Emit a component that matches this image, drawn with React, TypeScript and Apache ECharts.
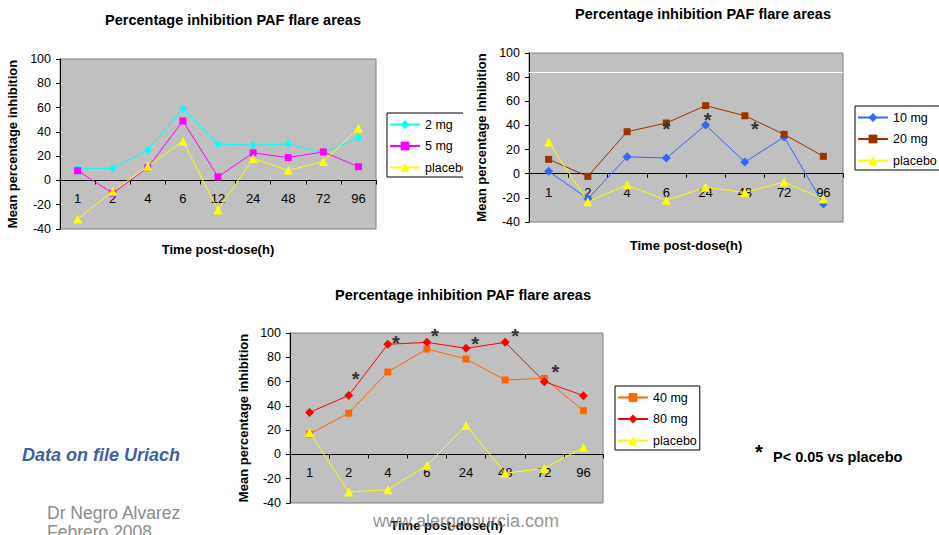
import React, { useEffect, useRef } from "react";
import * as echarts from "echarts";

const TITLE = "Percentage inhibition PAF flare areas";
const Y_NAME = "Mean percentage inhibition";
const X_NAME = "Time post-dose(h)";

const Y_MIN = -40;
const Y_MAX = 100;
const Y_STEP = 20;

// Chart 1 (top left)
const cats1 = ["1", "2", "4", "6", "12", "24", "48", "72", "96"];
const mg2 = [10, 10, 25, 59, 30, 29, 30, 23, 35];
const mg5 = [8, -10.5, 10.5, 49, 3, 22.7, 18.8, 23.5, 11.3];
const placebo1 = [-31.8, -9, 11.6, 32.3, -24.3, 18, 8.3, 15.5, 43];

// Chart 2 (top right)
const cats2 = ["1", "2", "4", "6", "24", "48", "72", "96"];
const mg10 = [2, -20.7, 14, 13, 40.3, 9.7, 30.4, -25];
const mg20 = [11.9, -2.2, 34.8, 42, 56.4, 48, 32.6, 14.4];
const placebo2 = [26.2, -23.2, -9.4, -22, -11.3, -15.5, -6.9, -21];
const starCats2 = ["6", "24", "48"];
const starVals2 = [40.7, 47, 40];
const whiteLine2 = 84;

// Chart 3 (bottom)
const cats3 = ["1", "2", "4", "6", "24", "48", "72", "96"];
const mg40 = [16.8, 34, 67.9, 86.8, 78.6, 61.3, 62.6, 36];
const mg80 = [34.6, 48.6, 90.7, 92.3, 87.4, 92.3, 59.9, 48.4];
const placebo3 = [18.1, -31, -29, -9, 23.9, -15.4, -11.5, 5.8];
const starCats3 = ["2", "4", "6", "24", "48", "72"];
const starVals3 = [64.3, 93.9, 99.8, 93.7, 99.8, 70.3];

const FONT = '"Liberation Sans", Arial, Helvetica, sans-serif';

type SeriesCfg = {
  name: string;
  data: number[];
  color: string;
  symbol: string;
  size: number;
};

type Cfg = {
  cats: string[];
  series: SeriesCfg[];
  grid: { left: number; top: number; width: number; height: number };
  title: { x: number; y: number };
  legend: { left: number; top: number; padRight: number };
  yNameGap: number;
  xNameGap: number;
  stars?: { cats: string[]; vals: number[]; shifts: number[]; dy: number[] };
  whiteLine?: number;
  graphic?: any[];
};

function buildOption(cfg: Cfg) {
  // put the category axis on the zero line (ECharts 6 keeps labels at the grid edge otherwise)
  const zeroFromBottom = ((0 - Y_MIN) / (Y_MAX - Y_MIN)) * cfg.grid.height;
  const series: any[] = cfg.series.map((s) => ({
    type: "line",
    name: s.name,
    data: s.data,
    symbol: s.symbol,
    symbolSize: s.size,
    showAllSymbol: true,
    lineStyle: { color: s.color, width: 1 },
    itemStyle: { color: s.color },
    clip: false,
  }));
  if (cfg.stars) {
    const st = cfg.stars;
    series[0].markPoint = {
      silent: true,
      symbol: "circle",
      symbolSize: 1,
      itemStyle: { color: "rgba(0,0,0,0)" },
      label: {
        show: true,
        position: "inside",
        formatter: "*",
        fontSize: 20,
        fontWeight: "bold",
        fontFamily: FONT,
        color: "#333333",
      },
      data: st.cats.map((c, i) => ({
        coord: [c, st.vals[i]],
        label: { offset: [st.shifts[i], st.dy[i]] },
      })),
    };
  }
  if (cfg.whiteLine !== undefined) {
    series[series.length - 1].markLine = {
      silent: true,
      symbol: ["none", "none"],
      label: { show: false },
      lineStyle: { color: "#ffffff", width: 1, type: "solid" },
      data: [{ yAxis: cfg.whiteLine }],
    };
  }
  return {
    animation: false,
    title: {
      text: TITLE,
      left: cfg.title.x,
      top: cfg.title.y,
      textAlign: "center",
      padding: 0,
      textStyle: { fontSize: 14.5, fontWeight: "bold", fontFamily: FONT, color: "#000" },
    },
    grid: {
      left: cfg.grid.left,
      top: cfg.grid.top,
      width: cfg.grid.width,
      height: cfg.grid.height,
      containLabel: false,
      outerBoundsMode: "none",
      show: true,
      backgroundColor: "#c0c0c0",
      borderColor: "#808080",
      borderWidth: 1,
    },
    legend: {
      orient: "vertical",
      left: cfg.legend.left,
      top: cfg.legend.top,
      padding: [5, cfg.legend.padRight, 3, 2],
      itemWidth: 30,
      itemHeight: 11,
      itemGap: 8.5,
      backgroundColor: "#ffffff",
      borderColor: "#000000",
      borderWidth: 1,
      borderRadius: 0,
      textStyle: { fontSize: 12.5, fontFamily: FONT, color: "#000" },
      data: cfg.series.map((s) => s.name),
    },
    xAxis: {
      type: "category",
      data: cfg.cats,
      boundaryGap: true,
      position: "bottom",
      offset: -zeroFromBottom,
      name: X_NAME,
      nameLocation: "middle",
      nameGap: cfg.xNameGap,
      nameTextStyle: { fontSize: 13, fontWeight: "bold", fontFamily: FONT, color: "#000" },
      axisLine: { show: true, onZero: false, lineStyle: { color: "#000", width: 1 } },
      axisTick: { show: true, inside: false, length: 4, lineStyle: { color: "#000" } },
      axisLabel: { margin: 12, fontSize: 13, fontFamily: FONT, color: "#000" },
      splitLine: { show: false },
    },
    yAxis: {
      type: "value",
      min: Y_MIN,
      max: Y_MAX,
      interval: Y_STEP,
      name: Y_NAME,
      nameLocation: "middle",
      nameGap: cfg.yNameGap,
      nameTextStyle: { fontSize: 13, fontWeight: "bold", fontFamily: FONT, color: "#000" },
      axisLine: { show: true, onZero: false, lineStyle: { color: "#000", width: 1 } },
      axisTick: { show: true, inside: false, length: 4, lineStyle: { color: "#000" } },
      axisLabel: { margin: 9, fontSize: 12.5, fontFamily: FONT, color: "#000" },
      splitLine: { show: false },
    },
    series,
    graphic: cfg.graphic || [],
  };
}

const YELLOW = "#FFFF00";

const option1 = buildOption({
  cats: cats1,
  series: [
    { name: "2 mg", data: mg2, color: "#00FFFF", symbol: "diamond", size: 8 },
    { name: "5 mg", data: mg5, color: "#FF00FF", symbol: "rect", size: 7 },
    { name: "placebo", data: placebo1, color: YELLOW, symbol: "triangle", size: 9 },
  ],
  grid: { left: 60, top: 59, width: 316, height: 170 },
  title: { x: 233, y: 12 },
  legend: { left: 387, top: 113, padRight: 12 },
  yNameGap: 34,
  xNameGap: 63,
});

const option2 = buildOption({
  cats: cats2,
  series: [
    { name: "10 mg", data: mg10, color: "#3366FF", symbol: "diamond", size: 9 },
    { name: "20 mg", data: mg20, color: "#993300", symbol: "rect", size: 7 },
    { name: "placebo", data: placebo2, color: YELLOW, symbol: "triangle", size: 9 },
  ],
  grid: { left: 59, top: 53, width: 314, height: 169 },
  title: { x: 233, y: 6 },
  legend: { left: 385, top: 106, padRight: 3 },
  yNameGap: 39,
  xNameGap: 65,
  stars: { cats: starCats2, vals: starVals2, shifts: [0, 2, 10], dy: [4, 3, 4] },
  whiteLine: whiteLine2,
});

const option3 = buildOption({
  cats: cats3,
  series: [
    { name: "40 mg", data: mg40, color: "#FF6600", symbol: "rect", size: 7 },
    { name: "80 mg", data: mg80, color: "#FF0000", symbol: "diamond", size: 9 },
    { name: "placebo", data: placebo3, color: YELLOW, symbol: "triangle", size: 9 },
  ],
  grid: { left: 290, top: 63, width: 313, height: 170 },
  title: { x: 463, y: 17 },
  legend: { left: 615, top: 116, padRight: 3 },
  yNameGap: 40,
  xNameGap: 65,
  stars: {
    cats: starCats3,
    vals: starVals3,
    shifts: [7, 8, 8, 9, 10, 11],
    dy: [3, 3, 3, 3, 3, 3],
  },
  graphic: [
    {
      type: "text",
      left: 22,
      top: 176,
      z: 100,
      style: {
        text: "Data on file Uriach",
        fontSize: 18,
        fontWeight: "bold",
        fontStyle: "italic",
        fontFamily: FONT,
        fill: "#3f5ea8",
      },
    },
    {
      type: "text",
      left: 47,
      top: 234,
      z: 100,
      style: { text: "Dr Negro Alvarez", fontSize: 17.5, fontFamily: FONT, fill: "#8c8c8c" },
    },
    {
      type: "text",
      left: 47,
      top: 253,
      z: 100,
      style: { text: "Febrero 2008", fontSize: 17.5, fontFamily: FONT, fill: "#8c8c8c" },
    },
    {
      type: "text",
      left: 755,
      top: 172,
      z: 100,
      style: { text: "*", fontSize: 20, fontWeight: "bold", fontFamily: FONT, fill: "#000" },
    },
    {
      type: "text",
      left: 773,
      top: 179,
      z: 100,
      style: {
        text: "P< 0.05 vs placebo",
        fontSize: 14.5,
        fontWeight: "bold",
        fontFamily: FONT,
        fill: "#000",
      },
    },
    {
      type: "text",
      left: 373,
      top: 242,
      z: 100,
      style: {
        text: "www.alergomurcia.com",
        fontSize: 18,
        fontFamily: FONT,
        fill: "rgba(120,120,120,0.8)",
      },
    },
  ],
});

function ChartBox(props: { option: any; left: number; top: number; width: number; height: number }) {
  const ref = useRef<HTMLDivElement>(null);
  useEffect(() => {
    const chart = echarts.init(ref.current!, null, { renderer: "svg" });
    chart.setOption(props.option);
    return () => chart.dispose();
  }, []);
  return (
    <div
      ref={ref}
      style={{
        position: "absolute",
        left: props.left,
        top: props.top,
        width: props.width,
        height: props.height,
        overflow: "hidden",
      }}
    />
  );
}

export default function App() {
  return (
    <div
      style={{
        position: "fixed",
        left: 0,
        top: 0,
        width: 939,
        height: 535,
        background: "#ffffff",
        overflow: "hidden",
      }}
    >
      <ChartBox option={option1} left={0} top={0} width={463} height={262} />
      <ChartBox option={option2} left={470} top={0} width={469} height={262} />
      <ChartBox option={option3} left={0} top={270} width={939} height={265} />
    </div>
  );
}
